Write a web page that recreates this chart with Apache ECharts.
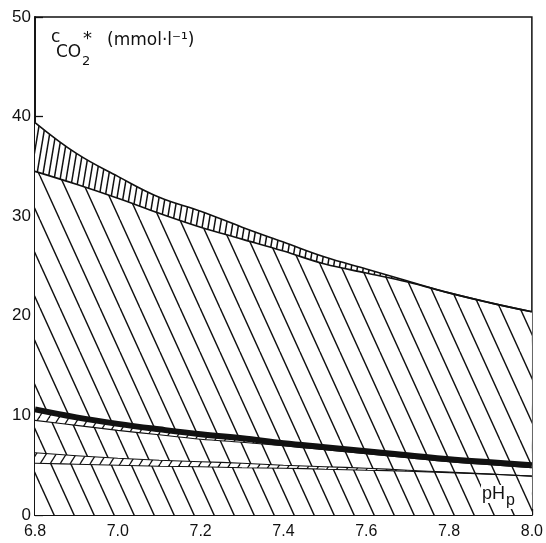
<!DOCTYPE html>
<html>
<head>
<meta charset="utf-8">
<script src="https://cdn.jsdelivr.net/npm/echarts@6/dist/echarts.min.js"></script>
<style>
  html, body { margin: 0; padding: 0; background: #fff; }
  #chart { width: 546px; height: 543px; }
</style>
</head>
<body>
<div id="chart"></div>
<script>
// pH values (x) at which all curves are sampled
const ph = [6.8, 6.9, 7.0, 7.1, 7.2, 7.3, 7.4, 7.5, 7.6, 7.7, 7.8, 7.9, 8.0];

// upper band (vertically hatched): top and bottom boundaries, mmol/l
const upperTop    = [39.4, 36.3, 34.0, 31.9, 30.5, 28.9, 27.4, 25.9, 24.7, 23.5, 22.3, 21.3, 20.4];
const upperBottom = [34.5, 33.2, 31.8, 30.3, 28.9, 27.7, 26.5, 25.2, 24.3, 23.4, 22.3, 21.3, 20.4];

// heavy line
const heavyLine   = [10.6, 9.8, 9.15, 8.6, 8.1, 7.7, 7.2, 6.8, 6.4, 6.0, 5.6, 5.3, 5.0];

// narrow band directly under the heavy line: lower boundary
const band1Bottom = [9.5, 9.0, 8.5, 8.05, 7.6, 7.3, 6.95, 6.55, 6.15, 5.75, 5.35, 5.05, 4.75];

// lower narrow band: top and bottom boundaries
const band2Top    = [6.25, 5.95, 5.7, 5.5, 5.35, 5.2, 5.0, 4.85, 4.7, 4.5, 4.3, 4.1, 3.9];
const band2Bottom = [5.2, 5.1, 5.0, 4.9, 4.85, 4.75, 4.7, 4.6, 4.5, 4.4, 4.25, 4.1, 3.9];

// axis ticks
const xTicks = [6.8, 7.0, 7.2, 7.4, 7.6, 7.8, 8.0];
const yTicks = [0, 10, 20, 30, 40, 50];

function pairs(ys) { return ph.map((x, i) => [x, ys[i]]); }

// repeating hatch tile: parallel lines, one per tile, wrapping across edges
function hatch(w, h, dir, lw) {
  const c = document.createElement('canvas');
  c.width = w; c.height = h;
  const g = c.getContext('2d');
  g.fillStyle = '#fff';
  g.fillRect(0, 0, w, h);
  g.strokeStyle = '#111';
  g.lineWidth = lw;
  for (let k = -1; k <= 1; k++) {
    g.beginPath();
    if (dir === 'back') { g.moveTo(k * w, 0); g.lineTo(k * w + w, h); }
    else { g.moveTo(k * w, h); g.lineTo(k * w + w, 0); }
    g.stroke();
  }
  return { image: c, repeat: 'repeat' };
}

const backHatch  = hatch(20, 44, 'back', 1.4);
const steepHatch = hatch(6, 36, 'fwd', 1.5);
const smallHatch = hatch(10, 16, 'fwd', 1.3);

function area(name, ys, fill, lineW) {
  return {
    name, type: 'line', data: pairs(ys),
    smooth: 0.4, showSymbol: false, silent: true,
    lineStyle: { color: '#111', width: lineW, opacity: lineW > 0 ? 1 : 0 },
    areaStyle: { color: fill, opacity: 1 }
  };
}

const chart = echarts.init(document.getElementById('chart'), null, { renderer: 'canvas' });
const font = 'Liberation Sans';
const labelFont = 'DejaVu Sans';

function txt(x, y, text, size, family, extra) {
  return {
    type: 'text', x, y, z: 100,
    style: Object.assign({ text, font: size + 'px "' + family + '"', fill: '#111', textVerticalAlign: 'middle' }, extra || {})
  };
}

chart.setOption({
  animation: false,
  backgroundColor: '#fff',
  grid: { left: 35, right: 11, top: 17, bottom: 28, show: true, borderColor: '#111', borderWidth: 1.5 },
  xAxis: {
    type: 'value', min: xTicks[0], max: xTicks[xTicks.length - 1], interval: 0.2,
    axisLine: { lineStyle: { color: '#111', width: 1.8 } },
    axisTick: { inside: true, length: 6, lineStyle: { color: '#111', width: 1.3 } },
    axisLabel: { color: '#111', fontFamily: font, fontSize: 16, margin: 9,
      formatter: v => v.toFixed(1) },
    splitLine: { show: false }
  },
  yAxis: {
    type: 'value', min: yTicks[0], max: yTicks[yTicks.length - 1], interval: 10,
    axisLine: { show: true, lineStyle: { color: '#111', width: 1.8 } },
    axisTick: { show: true, inside: true, length: 8, lineStyle: { color: '#111', width: 1.3 } },
    axisLabel: { color: '#111', fontFamily: font, fontSize: 17, margin: 4 },
    splitLine: { show: false }
  },
  series: [
    area('upperTop', upperTop, steepHatch, 1.6),
    area('upperBottom', upperBottom, backHatch, 1.6),
    area('band1Top', heavyLine, smallHatch, 0),
    area('band1Bottom', band1Bottom, backHatch, 1.1),
    area('band2Top', band2Top, smallHatch, 1.1),
    area('band2Bottom', band2Bottom, backHatch, 1.1),
    {
      name: 'heavy', type: 'line', data: pairs(heavyLine),
      smooth: 0.4, showSymbol: false, silent: true,
      lineStyle: { color: '#111', width: 6 }
    }
  ],
  graphic: [
    txt(51, 38, 'c', 17, labelFont),
    txt(56, 53, 'CO', 17, labelFont),
    txt(82, 62, '2', 13, labelFont),
    txt(83, 39, '*', 18, labelFont),
    txt(107, 40.5, '(mmol·l⁻¹)', 17, labelFont),
    txt(481, 494, 'pH', 18, font, { backgroundColor: '#fff', padding: [0, 1, 0, 1] }),
    txt(506, 501, 'p', 16, font, { backgroundColor: '#fff', padding: [0, 1, 0, 0] })
  ]
});
</script>
</body>
</html>
